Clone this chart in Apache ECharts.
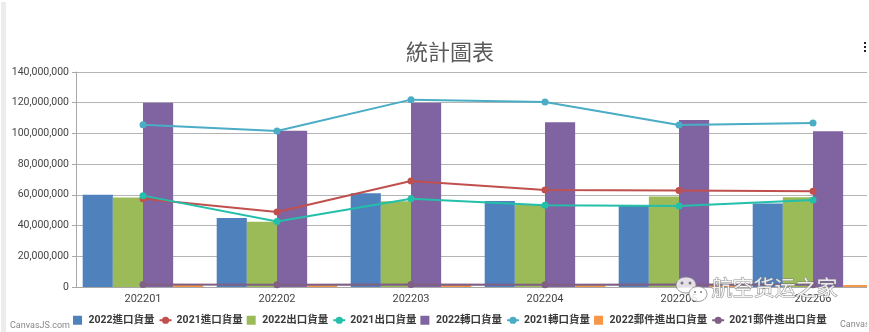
<!DOCTYPE html>
<html>
<head>
<meta charset="utf-8">
<script src="https://cdn.jsdelivr.net/npm/echarts@6/dist/echarts.min.js"></script>
<style>
  html, body { margin: 0; padding: 0; background: #fff; overflow: hidden; width: 869px; height: 332px; }
  #wrap { position: relative; width: 869px; height: 332px; overflow: hidden; }
  #chart { position: absolute; left: 0; top: 0; width: 900px; height: 332px; }
  #edge { position: absolute; left: 1px; top: 2px; width: 5px; height: 330px; background: #ececec; z-index: 5; }
  #rightPad { position: absolute; left: 867px; top: 0; width: 2px; height: 332px; background: #fff; z-index: 5; }
</style>
</head>
<body>
<div id="wrap">
  <div id="chart"></div>
  <div id="edge"></div>
  <div id="rightPad"></div>
</div>
<script>
// Monthly cargo volumes
const months = ['202201', '202202', '202203', '202204', '202205', '202206'];

const import2022 = [60000000, 45000000, 61000000, 56000000, 53000000, 54300000];
const import2021 = [57500000, 48900000, 69000000, 63200000, 62900000, 62300000];
const export2022 = [58200000, 42500000, 55800000, 53600000, 59000000, 58400000];
const export2021 = [59500000, 42700000, 57500000, 53200000, 52800000, 56700000];
const transit2022 = [120000000, 101800000, 119900000, 107200000, 108800000, 101400000];
const transit2021 = [105700000, 101600000, 122000000, 120500000, 105500000, 106800000];
const mail2022 = [1300000, 1200000, 1300000, 1200000, 1300000, 1300000];
const mail2021 = [1600000, 1500000, 1600000, 1500000, 1600000, 1500000];

const yTicks = { min: 0, max: 140000000, interval: 20000000 };

const names = {
  import2022: '2022進口貨量', import2021: '2021進口貨量',
  export2022: '2022出口貨量', export2021: '2021出口貨量',
  transit2022: '2022轉口貨量', transit2021: '2021轉口貨量',
  mail2022: '2022郵件進出口貨量', mail2021: '2021郵件進出口貨量'
};

const colors = {
  import2022: '#4F81BC', import2021: '#C0504E',
  export2022: '#9BBB58', export2021: '#23BFAA',
  transit2022: '#8064A1', transit2021: '#4AACC5',
  mail2022: '#F79647', mail2021: '#7F6084'
};

const latin = 'Roboto, "Noto Sans CJK TC", sans-serif';
const cjk = '"Noto Sans CJK TC", Roboto, sans-serif';

function bar(key, data) {
  return {
    name: names[key], type: 'bar', data: data,
    barGap: '0%', barCategoryGap: '10%',
    itemStyle: { color: colors[key] }, z: 2
  };
}
function line(key, data) {
  return {
    name: names[key], type: 'line', data: data,
    symbol: 'circle', symbolSize: 7, showSymbol: true,
    lineStyle: { color: colors[key], width: 2 },
    itemStyle: { color: colors[key] }, z: 4
  };
}

const square = 'path://M0,0H9V9H0Z';
const legendOrder = ['import2022', 'import2021', 'export2022', 'export2021',
                     'transit2022', 'transit2021', 'mail2022', 'mail2021'];

const chart = echarts.init(document.getElementById('chart'), null, { renderer: 'canvas' });
chart.setOption({
  animation: false,
  title: {
    text: '統計圖表', left: 'center', top: 36,
    textStyle: { fontFamily: cjk, fontSize: 22, fontWeight: 'normal', color: '#5a5a5a' }
  },
  legend: {
    left: 68, top: 310, itemGap: 4, itemWidth: 12, itemHeight: 9,
    symbolKeepAspect: true,
    data: legendOrder.map(k => ({
      name: names[k],
      icon: k.endsWith('2022') ? square : undefined
    })),
    textStyle: { fontFamily: latin, fontSize: 10.5, fontWeight: 'bold', color: '#3a3a3a' }
  },
  grid: { left: 76, right: 20, top: 72, bottom: 45 },
  xAxis: {
    type: 'category', data: months,
    axisLine: { lineStyle: { color: '#a8a8a8', width: 1 } },
    axisTick: { show: false },
    axisLabel: { margin: 7, fontFamily: latin, fontSize: 11, color: '#444' }
  },
  yAxis: {
    type: 'value', min: yTicks.min, max: yTicks.max, interval: yTicks.interval,
    axisLine: { show: true, lineStyle: { color: '#a8a8a8', width: 1 } },
    axisTick: { show: true, length: 4, lineStyle: { color: '#a8a8a8' } },
    splitLine: { lineStyle: { color: '#b4b4b4', width: 1.2 } },
    axisLabel: {
      margin: 7, fontFamily: latin, fontSize: 10.5, color: '#444',
      formatter: v => v.toLocaleString('en-US')
    }
  },
  series: [
    bar('import2022', import2022),
    bar('export2022', export2022),
    bar('transit2022', transit2022),
    bar('mail2022', mail2022),
    line('import2021', import2021),
    line('export2021', export2021),
    line('transit2021', transit2021),
    line('mail2021', mail2021)
  ],
  graphic: [
    // options menu dots
    { type: 'rect', shape: { x: 864, y: 42, width: 2, height: 2 }, style: { fill: '#222' }, z: 100 },
    { type: 'rect', shape: { x: 864, y: 46, width: 2, height: 2 }, style: { fill: '#222' }, z: 100 },
    { type: 'rect', shape: { x: 864, y: 50, width: 2, height: 2 }, style: { fill: '#222' }, z: 100 },
    // credits
    { type: 'text', left: 10, top: 321, style: { text: 'CanvasJS.com', font: '9px ' + latin, fill: '#888' }, z: 100 },
    { type: 'text', left: 840, top: 320, style: { text: 'CanvasJS.com', font: '9px ' + latin, fill: '#888' }, z: 100 },
    // watermark bubbles
    { type: 'ellipse', shape: { cx: 686, cy: 285, rx: 10, ry: 8 },
      style: { fill: 'rgba(255,255,255,0.8)', stroke: 'rgba(130,130,130,0.8)', lineWidth: 1 }, z: 100 },
    { type: 'circle', shape: { cx: 682, cy: 283, r: 1.5 }, style: { fill: 'rgba(110,110,110,0.9)' }, z: 101 },
    { type: 'circle', shape: { cx: 690, cy: 283, r: 1.5 }, style: { fill: 'rgba(110,110,110,0.9)' }, z: 101 },
    { type: 'ellipse', shape: { cx: 698, cy: 294, rx: 9, ry: 7.5 },
      style: { fill: 'rgba(255,255,255,0.85)', stroke: 'rgba(130,130,130,0.8)', lineWidth: 1 }, z: 102 },
    { type: 'circle', shape: { cx: 695, cy: 292, r: 1 }, style: { fill: 'rgba(110,110,110,0.9)' }, z: 103 },
    { type: 'circle', shape: { cx: 701, cy: 292, r: 1 }, style: { fill: 'rgba(110,110,110,0.9)' }, z: 103 },
    // watermark text
    { type: 'text', left: 711, top: 276,
      style: { text: '航空货运之家', font: '21px "Noto Sans CJK SC", sans-serif',
               fill: 'rgba(255,255,255,0.85)', stroke: 'rgba(120,120,120,0.85)', lineWidth: 1 }, z: 100 }
  ]
});
</script>
</body>
</html>
